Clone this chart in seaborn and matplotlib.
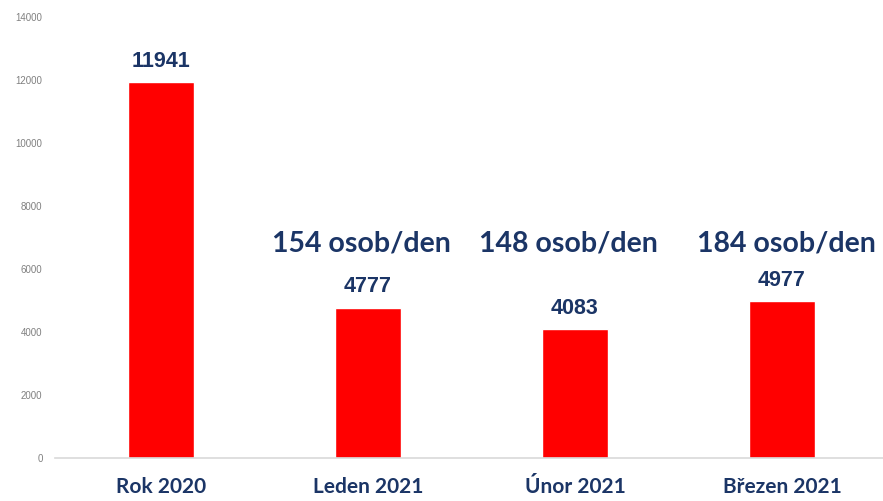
import matplotlib
matplotlib.use("Agg")
import matplotlib.pyplot as plt
import seaborn as sns
import pandas as pd

categories = ["Rok 2020", "Leden 2021", "Únor 2021", "Březen 2021"]
values = [11941, 4777, 4083, 4977]
per_day = [None, "154 osob/den", "148 osob/den", "184 osob/den"]
yticks = [0, 2000, 4000, 6000, 8000, 10000, 12000, 14000]

sns.set_theme(style="white")
plt.rcParams['font.family'] = ['Lato', 'DejaVu Sans']

navy = "#1b3566"
df = pd.DataFrame({"cat": categories, "val": values})

fig = plt.figure(figsize=(8.83, 5.01), dpi=100)
ax = fig.add_axes([55/883, 43/501, 1 - 55/883, (484 - 43)/501])
sns.barplot(data=df, x="cat", y="val", color="#ff0000", saturation=1,
            width=0.32, ax=ax)
ax.set_xlim(-0.512, 3.488)
ax.set_ylim(0, 14000)
ax.set_yticks(yticks)
ax.set_yticklabels([str(t) for t in yticks], color="#808080", fontsize=7,
                   family=['Liberation Sans', 'DejaVu Sans'])
ax.tick_params(axis='y', length=0, pad=9)
ax.tick_params(axis='x', length=0, pad=14)
for lab in ax.get_xticklabels():
    lab.set_fontsize(15)
    lab.set_fontweight("bold")
    lab.set_color(navy)
ax.set_xlabel("")
ax.set_ylabel("")
for s in ["top", "right", "left"]:
    ax.spines[s].set_visible(False)
ax.spines["bottom"].set_color("#d9d9d9")
ax.spines["bottom"].set_linewidth(1.2)

for i, v in enumerate(values):
    ax.annotate(str(v), (i, v), xytext=(0, 15), textcoords="offset points",
                ha="center", va="center", fontsize=15.5, fontweight="bold",
                color=navy, family=['Liberation Sans', 'DejaVu Sans'])

for i, t in enumerate(per_day):
    if t:
        ax.text(i - 0.03 if i < 3 else i + 0.02, 6825, t, ha="center", va="center",
                fontsize=20.5, fontweight="bold", color=navy)

fig.savefig("out.png", dpi=100, facecolor="white")
